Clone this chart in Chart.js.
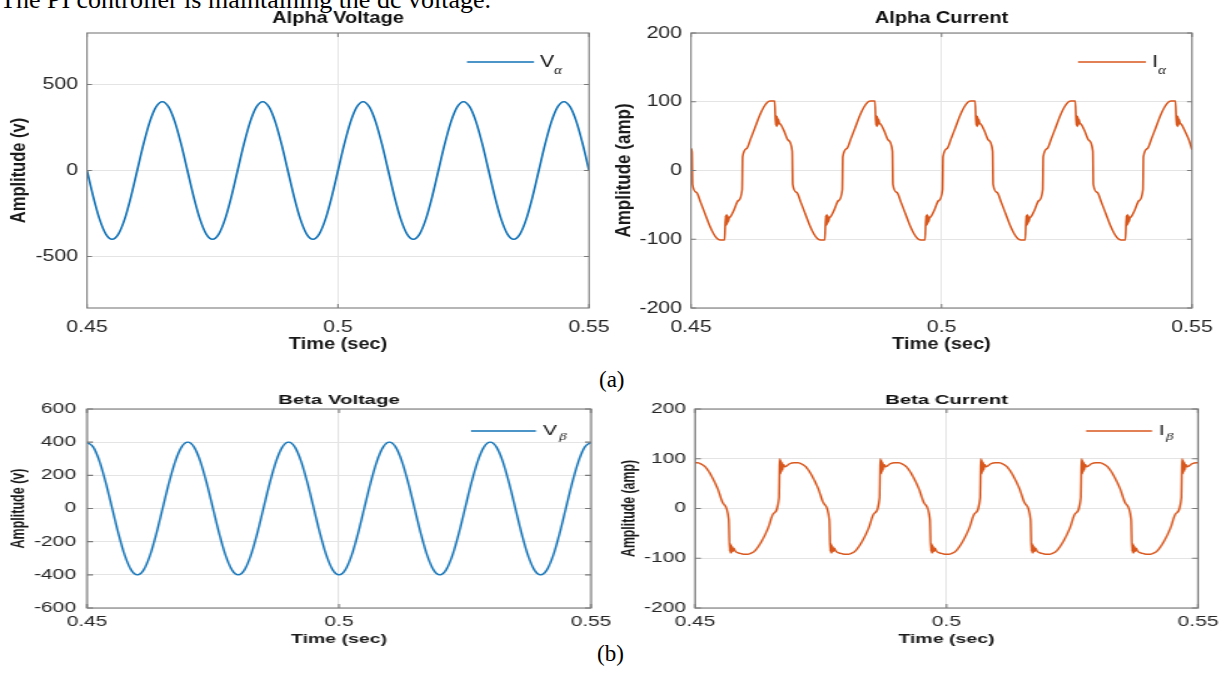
<!DOCTYPE html>
<html>
<head>
<meta charset="utf-8">
<script src="https://cdn.jsdelivr.net/npm/chart.js@4.4.1/dist/chart.umd.min.js"></script>
<style>
  html, body { margin: 0; padding: 0; background: #fff; width: 1226px; height: 677px; overflow: hidden; position: relative; }
  .panel { position: absolute; transform-origin: 0 0; }
  .panel canvas { display: block; }
  .doc { position: absolute; font-family: "Liberation Serif", "Times New Roman", serif; color: #000; white-space: nowrap; }
</style>
</head>
<body>
<div class="doc" style="left:0;top:-13px;font-size:26px;line-height:26px">The PI controller is maintaining the dc voltage.</div>
<div class="doc" style="left:599px;top:368px;font-size:23px;line-height:23px">(a)</div>
<div class="doc" style="left:597px;top:642px;font-size:23px;line-height:23px">(b)</div>
<div class="panel" id="p2"><canvas id="c2"></canvas></div>
<div class="panel" id="p4"><canvas id="c4"></canvas></div>
<div class="panel" id="p1"><canvas id="c1"></canvas></div>
<div class="panel" id="p3"><canvas id="c3"></canvas></div>
<script>
// ---- time axis (s) ----
const xTicks = [0.45, 0.5, 0.55];
const xTickLabels = ['0.45', '0.5', '0.55'];

// ---- voltage samples (every 1.25 ms) ----
const tV = [
  0.45, 0.45125, 0.4525, 0.45375, 0.455, 0.45625, 0.4575, 0.45875, 0.46, 0.46125, 0.4625, 0.46375, 0.465, 0.46625, 0.4675, 0.46875,
  0.47, 0.47125, 0.4725, 0.47375, 0.475, 0.47625, 0.4775, 0.47875, 0.48, 0.48125, 0.4825, 0.48375, 0.485, 0.48625, 0.4875, 0.48875,
  0.49, 0.49125, 0.4925, 0.49375, 0.495, 0.49625, 0.4975, 0.49875, 0.5, 0.50125, 0.5025, 0.50375, 0.505, 0.50625, 0.5075, 0.50875,
  0.51, 0.51125, 0.5125, 0.51375, 0.515, 0.51625, 0.5175, 0.51875, 0.52, 0.52125, 0.5225, 0.52375, 0.525, 0.52625, 0.5275, 0.52875,
  0.53, 0.53125, 0.5325, 0.53375, 0.535, 0.53625, 0.5375, 0.53875, 0.54, 0.54125, 0.5425, 0.54375, 0.545, 0.54625, 0.5475, 0.54875,
  0.55
];
const vAlpha = [
  0, -153, -283, -370, -400, -370, -283, -153, 0, 153, 283, 370, 400, 370, 283, 153,
  0, -153, -283, -370, -400, -370, -283, -153, 0, 153, 283, 370, 400, 370, 283, 153,
  0, -153, -283, -370, -400, -370, -283, -153, 0, 153, 283, 370, 400, 370, 283, 153,
  0, -153, -283, -370, -400, -370, -283, -153, 0, 153, 283, 370, 400, 370, 283, 153,
  0, -153, -283, -370, -400, -370, -283, -153, 0, 153, 283, 370, 400, 370, 283, 153,
  0
];
const vBeta = [
  400, 370, 283, 153, 0, -153, -283, -370, -400, -370, -283, -153, 0, 153, 283, 370,
  400, 370, 283, 153, 0, -153, -283, -370, -400, -370, -283, -153, 0, 153, 283, 370,
  400, 370, 283, 153, 0, -153, -283, -370, -400, -370, -283, -153, 0, 153, 283, 370,
  400, 370, 283, 153, 0, -153, -283, -370, -400, -370, -283, -153, 0, 153, 283, 370,
  400, 370, 283, 153, 0, -153, -283, -370, -400, -370, -283, -153, 0, 153, 283, 370,
  400
];

// ---- alpha current ----
const tIa = [
  0.4500, 0.4502,
  0.4503, 0.4511, 0.4519, 0.4528, 0.4537, 0.4545, 0.4552, 0.4558, 0.4567, 0.4569, 0.4570, 0.4571, 0.4572, 0.4573, 0.4574, 0.4576, 0.4579, 0.4586, 0.4594, 0.4602,
  0.4603, 0.4611, 0.4619, 0.4628, 0.4637, 0.4645, 0.4652, 0.4658, 0.4667, 0.4669, 0.4670, 0.4671, 0.4672, 0.4673, 0.4674, 0.4676, 0.4679, 0.4686, 0.4694, 0.4702,
  0.4703, 0.4711, 0.4719, 0.4728, 0.4737, 0.4745, 0.4752, 0.4758, 0.4767, 0.4769, 0.4770, 0.4771, 0.4772, 0.4773, 0.4774, 0.4776, 0.4779, 0.4786, 0.4794, 0.4802,
  0.4803, 0.4811, 0.4819, 0.4828, 0.4837, 0.4845, 0.4852, 0.4858, 0.4867, 0.4869, 0.4870, 0.4871, 0.4872, 0.4873, 0.4874, 0.4876, 0.4879, 0.4886, 0.4894, 0.4902,
  0.4903, 0.4911, 0.4919, 0.4928, 0.4937, 0.4945, 0.4952, 0.4958, 0.4967, 0.4969, 0.4970, 0.4971, 0.4972, 0.4973, 0.4974, 0.4976, 0.4979, 0.4986, 0.4994, 0.5002,
  0.5003, 0.5011, 0.5019, 0.5028, 0.5037, 0.5045, 0.5052, 0.5058, 0.5067, 0.5069, 0.5070, 0.5071, 0.5072, 0.5073, 0.5074, 0.5076, 0.5079, 0.5086, 0.5094, 0.5102,
  0.5103, 0.5111, 0.5119, 0.5128, 0.5137, 0.5145, 0.5152, 0.5158, 0.5167, 0.5169, 0.5170, 0.5171, 0.5172, 0.5173, 0.5174, 0.5176, 0.5179, 0.5186, 0.5194, 0.5202,
  0.5203, 0.5211, 0.5219, 0.5228, 0.5237, 0.5245, 0.5252, 0.5258, 0.5267, 0.5269, 0.5270, 0.5271, 0.5272, 0.5273, 0.5274, 0.5276, 0.5279, 0.5286, 0.5294, 0.5302,
  0.5303, 0.5311, 0.5319, 0.5328, 0.5337, 0.5345, 0.5352, 0.5358, 0.5367, 0.5369, 0.5370, 0.5371, 0.5372, 0.5373, 0.5374, 0.5376, 0.5379, 0.5386, 0.5394, 0.5402,
  0.5403, 0.5411, 0.5419, 0.5428, 0.5437, 0.5445, 0.5452, 0.5458, 0.5467, 0.5469, 0.5470, 0.5471, 0.5472, 0.5473, 0.5474, 0.5476, 0.5479, 0.5486, 0.5494, 0.5500
];
const iAlpha = [
  32, 27,
  -20, -32, -46, -63, -80, -92, -99, -101, -101, -66, -80, -64, -78, -66, -75, -69, -67, -57, -44, -28,
  20, 32, 46, 63, 80, 92, 99, 101, 101, 66, 80, 64, 78, 66, 75, 69, 67, 57, 44, 28,
  -20, -32, -46, -63, -80, -92, -99, -101, -101, -66, -80, -64, -78, -66, -75, -69, -67, -57, -44, -28,
  20, 32, 46, 63, 80, 92, 99, 101, 101, 66, 80, 64, 78, 66, 75, 69, 67, 57, 44, 28,
  -20, -32, -46, -63, -80, -92, -99, -101, -101, -66, -80, -64, -78, -66, -75, -69, -67, -57, -44, -28,
  20, 32, 46, 63, 80, 92, 99, 101, 101, 66, 80, 64, 78, 66, 75, 69, 67, 57, 44, 28,
  -20, -32, -46, -63, -80, -92, -99, -101, -101, -66, -80, -64, -78, -66, -75, -69, -67, -57, -44, -28,
  20, 32, 46, 63, 80, 92, 99, 101, 101, 66, 80, 64, 78, 66, 75, 69, 67, 57, 44, 28,
  -20, -32, -46, -63, -80, -92, -99, -101, -101, -66, -80, -64, -78, -66, -75, -69, -67, -57, -44, -28,
  20, 32, 46, 63, 80, 92, 99, 101, 101, 66, 80, 64, 78, 66, 75, 69, 67, 57, 44, 30
];

// ---- beta current ----
const tIb = [
  0.4500, 0.4505, 0.4509, 0.4520, 0.4533, 0.4545, 0.4556, 0.4567,
  0.4569, 0.4570, 0.4571, 0.4572, 0.4573, 0.4574, 0.4575, 0.4577, 0.4580, 0.4589, 0.4597, 0.4605, 0.4609, 0.4620, 0.4633, 0.4645, 0.4656, 0.4667,
  0.4668, 0.4669, 0.4670, 0.4671, 0.4672, 0.4673, 0.4674, 0.4676, 0.4679, 0.4688, 0.4697, 0.4705, 0.4709, 0.4720, 0.4733, 0.4745, 0.4756, 0.4767,
  0.4769, 0.4770, 0.4771, 0.4772, 0.4773, 0.4774, 0.4775, 0.4777, 0.4780, 0.4789, 0.4797, 0.4805, 0.4809, 0.4820, 0.4833, 0.4845, 0.4856, 0.4867,
  0.4868, 0.4869, 0.4870, 0.4871, 0.4872, 0.4873, 0.4874, 0.4876, 0.4879, 0.4888, 0.4897, 0.4905, 0.4909, 0.4920, 0.4933, 0.4945, 0.4956, 0.4967,
  0.4969, 0.4970, 0.4971, 0.4972, 0.4973, 0.4974, 0.4975, 0.4977, 0.4980, 0.4989, 0.4997, 0.5005, 0.5009, 0.5020, 0.5033, 0.5045, 0.5056, 0.5067,
  0.5068, 0.5069, 0.5070, 0.5071, 0.5072, 0.5073, 0.5074, 0.5076, 0.5079, 0.5088, 0.5097, 0.5105, 0.5109, 0.5120, 0.5133, 0.5145, 0.5156, 0.5167,
  0.5169, 0.5170, 0.5171, 0.5172, 0.5173, 0.5174, 0.5175, 0.5177, 0.5180, 0.5189, 0.5197, 0.5205, 0.5209, 0.5220, 0.5233, 0.5245, 0.5256, 0.5267,
  0.5268, 0.5269, 0.5270, 0.5271, 0.5272, 0.5273, 0.5274, 0.5276, 0.5279, 0.5288, 0.5297, 0.5305, 0.5309, 0.5320, 0.5333, 0.5345, 0.5356, 0.5367,
  0.5369, 0.5370, 0.5371, 0.5372, 0.5373, 0.5374, 0.5375, 0.5377, 0.5380, 0.5389, 0.5397, 0.5405, 0.5409, 0.5420, 0.5433, 0.5445, 0.5456, 0.5467,
  0.5468, 0.5469, 0.5470, 0.5471, 0.5472, 0.5473, 0.5474, 0.5476, 0.5479, 0.5488, 0.5497, 0.5500
];
const iBeta = [
  92, 92, 91, 84, 65, 40, 10, -22,
  -86, -70, -90, -74, -88, -77, -86, -80, -86, -90, -92, -92, -91, -84, -65, -40, -10, 22,
  86, 100, 70, 96, 74, 92, 78, 88, 84, 90, 92, 92, 91, 84, 65, 40, 10, -22,
  -86, -70, -90, -74, -88, -77, -86, -80, -86, -90, -92, -92, -91, -84, -65, -40, -10, 22,
  86, 100, 70, 96, 74, 92, 78, 88, 84, 90, 92, 92, 91, 84, 65, 40, 10, -22,
  -86, -70, -90, -74, -88, -77, -86, -80, -86, -90, -92, -92, -91, -84, -65, -40, -10, 22,
  86, 100, 70, 96, 74, 92, 78, 88, 84, 90, 92, 92, 91, 84, 65, 40, 10, -22,
  -86, -70, -90, -74, -88, -77, -86, -80, -86, -90, -92, -92, -91, -84, -65, -40, -10, 22,
  86, 100, 70, 96, 74, 92, 78, 88, 84, 90, 92, 92, 91, 84, 65, 40, 10, -22,
  -86, -70, -90, -74, -88, -77, -86, -80, -86, -90, -92, -92, -91, -84, -65, -40, -10, 22,
  86, 100, 70, 96, 74, 92, 78, 88, 84, 90, 92, 92
];

// ---- y-axis ticks ----
const yTicksVa = [-500, 0, 500];
const yTicksIa = [-200, -100, 0, 100, 200];
const yTicksVb = [-600, -400, -200, 0, 200, 400, 600];
const yTicksIb = [-200, -100, 0, 100, 200];

const SANS = '"Liberation Sans", Arial, Helvetica, sans-serif';
const BLUE = '#1172b6';
const ORANGE = '#d8571d';

// axes box with inward tick marks, drawn over the traces
const framePlugin = {
  id: 'frame',
  afterDatasetsDraw(chart, args, opts) {
    const { ctx, chartArea: a, scales: { x, y } } = chart;
    ctx.save();
    ctx.strokeStyle = opts.color;
    ctx.lineWidth = 1.1;
    ctx.strokeRect(a.left, a.top, a.right - a.left, a.bottom - a.top);
    ctx.beginPath();
    x.ticks.forEach(t => {
      const px = x.getPixelForValue(t.value);
      ctx.moveTo(px, a.bottom); ctx.lineTo(px, a.bottom - opts.tickY);
      ctx.moveTo(px, a.top); ctx.lineTo(px, a.top + opts.tickY);
    });
    y.ticks.forEach(t => {
      const py = y.getPixelForValue(t.value);
      ctx.moveTo(a.left, py); ctx.lineTo(a.left + opts.tickX, py);
      ctx.moveTo(a.right, py); ctx.lineTo(a.right - opts.tickX, py);
    });
    ctx.stroke();
    ctx.restore();
  }
};

// line sample + symbol with Greek subscript
const keyPlugin = {
  id: 'key',
  afterDraw(chart, args, o) {
    const ctx = chart.ctx;
    ctx.save();
    ctx.strokeStyle = o.color;
    ctx.lineWidth = o.lineWidth;
    ctx.beginPath();
    ctx.moveTo(o.x1, o.y); ctx.lineTo(o.x2, o.y);
    ctx.stroke();
    ctx.fillStyle = '#111';
    ctx.textBaseline = 'middle';
    ctx.textAlign = 'left';
    ctx.font = o.size + 'px ' + SANS;
    ctx.fillText(o.main, o.tx, o.y);
    ctx.font = 'italic ' + o.subSize + 'px "Liberation Serif", serif';
    ctx.fillText(o.sub, o.sx, o.sy);
    ctx.restore();
  }
};

function makeChart(c) {
  const s = c.width / c.iw;
  const wrap = document.getElementById(c.wrap);
  wrap.style.left = c.left + 'px';
  wrap.style.top = c.top + 'px';
  wrap.style.transform = 'scaleX(' + s + ')';
  const cv = document.getElementById(c.canvas);
  cv.width = c.iw; cv.height = c.height;
  cv.style.width = c.iw + 'px'; cv.style.height = c.height + 'px';

  const ix = X => (X - c.left) / s;
  const yAxisW = ix(c.area.l);
  const rightPad = c.iw - ix(c.area.r);
  const titleH = c.area.t - c.top;
  const xAxisH = c.top + c.height - c.area.b;
  const tLh = c.titleSize * 1.2;
  const tPadTop = (c.titleY - c.top) - tLh / 2;
  const lLh = c.labelSize * 1.2;
  const kLh = c.tickSize * 1.2;

  const pts = c.xs.map((t, i) => ({ x: t, y: c.ys[i] }));

  return new Chart(cv, {
    type: 'line',
    data: { datasets: [{ data: pts, borderColor: c.color, borderWidth: c.lineWidth, pointRadius: 0, fill: false, cubicInterpolationMode: 'monotone' }] },
    options: {
      responsive: false, animation: false, devicePixelRatio: 1,
      layout: { padding: { left: 0, right: rightPad, top: 0, bottom: 0 } },
      plugins: {
        legend: { display: false }, tooltip: { enabled: false },
        title: {
          display: true, text: c.title, fullSize: false, color: '#111',
          font: { family: SANS, size: c.titleSize, weight: 'bold' },
          padding: { top: tPadTop, bottom: titleH - tLh - tPadTop }
        },
        frame: { color: '#7b7b7b', tickX: 4, tickY: 4 },
        key: {
          color: c.color, lineWidth: c.lineWidth,
          x1: ix(c.key.x1), x2: ix(c.key.x2), y: c.key.y - c.top,
          main: c.key.main, tx: ix(c.key.tx), size: c.key.size,
          sub: c.key.sub, sx: ix(c.key.sx), sy: c.key.sy - c.top, subSize: c.key.subSize
        }
      },
      scales: {
        x: {
          type: 'linear', min: xTicks[0], max: xTicks[xTicks.length - 1],
          afterBuildTicks: sc => { sc.ticks = xTicks.map(v => ({ value: v })); },
          afterFit: sc => { sc.height = xAxisH; sc.paddingLeft = 0; sc.paddingRight = 0; },
          ticks: {
            autoSkip: false, maxRotation: 0, color: '#262626',
            font: { family: SANS, size: c.tickSize },
            padding: (c.xTickY - c.area.b) - kLh / 2,
            callback: (v, i) => xTickLabels[i]
          },
          grid: { color: '#e4e4e4', lineWidth: 1, drawTicks: false },
          border: { display: false },
          title: {
            display: true, text: c.xTitle, color: '#1a1a1a',
            font: { family: SANS, size: c.labelSize, weight: 'bold' },
            padding: { top: 0, bottom: (c.top + c.height - c.xTitleY) - lLh / 2 }
          }
        },
        y: {
          type: 'linear', min: c.yMin, max: c.yMax,
          afterBuildTicks: sc => { sc.ticks = c.yTicks.map(v => ({ value: v })); },
          afterFit: sc => { sc.width = yAxisW; sc.paddingTop = 0; sc.paddingBottom = 0; },
          ticks: {
            color: '#262626', font: { family: SANS, size: c.tickSize },
            padding: yAxisW - ix(c.yTickRight),
            callback: v => String(v)
          },
          grid: { color: '#e4e4e4', lineWidth: 1, drawTicks: false },
          border: { display: false },
          title: {
            display: true, text: c.yTitle, color: '#1a1a1a',
            font: { family: SANS, size: c.yLabelSize, weight: 'bold' },
            padding: { top: ix(c.yTitleX) - c.yLabelSize * 0.6, bottom: 0 }
          }
        }
      }
    },
    plugins: [framePlugin, keyPlugin]
  });
}

makeChart({
  wrap: 'p1', canvas: 'c1', left: 0, top: 0, width: 625, height: 360, iw: 500,
  area: { l: 87, t: 33, r: 589, b: 308 },
  title: 'Alpha Voltage', titleSize: 16, titleY: 19,
  xTitle: 'Time (sec)', xTitleY: 345, labelSize: 16,
  yTitle: 'Amplitude (v)', yTitleX: 19, yLabelSize: 16.5,
  tickSize: 17, xTickY: 327, yTickRight: 78,
  yMin: -800, yMax: 800, yTicks: yTicksVa,
  xs: tV, ys: vAlpha, color: BLUE, lineWidth: 1.7,
  key: { x1: 467, x2: 534, y: 62, main: 'V', tx: 540, size: 17, sub: 'α', sx: 554, sy: 71, subSize: 12 }
});

makeChart({
  wrap: 'p2', canvas: 'c2', left: 600, top: 0, width: 626, height: 360, iw: 500,
  area: { l: 691, t: 33, r: 1192, b: 308 },
  title: 'Alpha Current', titleSize: 16, titleY: 19,
  xTitle: 'Time (sec)', xTitleY: 345, labelSize: 16,
  yTitle: 'Amplitude (amp)', yTitleX: 624, yLabelSize: 17,
  tickSize: 17, xTickY: 327, yTickRight: 682,
  yMin: -200, yMax: 200, yTicks: yTicksIa,
  xs: tIa, ys: iAlpha, color: ORANGE, lineWidth: 1.6,
  key: { x1: 1078, x2: 1146, y: 62, main: 'I', tx: 1152, size: 17, sub: 'α', sx: 1158, sy: 71, subSize: 12 }
});

makeChart({
  wrap: 'p3', canvas: 'c3', left: 0, top: 370, width: 630, height: 307, iw: 420,
  area: { l: 87, t: 409, r: 591, b: 608 },
  title: 'Beta Voltage', titleSize: 13.5, titleY: 400,
  xTitle: 'Time (sec)', xTitleY: 639, labelSize: 13,
  yTitle: 'Amplitude (v)', yTitleX: 19, yLabelSize: 12.5,
  tickSize: 14, xTickY: 622, yTickRight: 76,
  yMin: -600, yMax: 600, yTicks: yTicksVb,
  xs: tV, ys: vBeta, color: BLUE, lineWidth: 1.4,
  key: { x1: 471, x2: 536, y: 431, main: 'V', tx: 543, size: 14, sub: 'β', sx: 559, sy: 437, subSize: 10 }
});

makeChart({
  wrap: 'p4', canvas: 'c4', left: 600, top: 370, width: 626, height: 307, iw: 417,
  area: { l: 695, t: 409, r: 1198, b: 608 },
  title: 'Beta Current', titleSize: 13.5, titleY: 400,
  xTitle: 'Time (sec)', xTitleY: 639, labelSize: 13,
  yTitle: 'Amplitude (amp)', yTitleX: 630, yLabelSize: 12.3,
  tickSize: 14, xTickY: 622, yTickRight: 686,
  yMin: -200, yMax: 200, yTicks: yTicksIb,
  xs: tIb, ys: iBeta, color: ORANGE, lineWidth: 1.4,
  key: { x1: 1086, x2: 1152, y: 431, main: 'I', tx: 1159, size: 14, sub: 'β', sx: 1166, sy: 437, subSize: 10 }
});
</script>
</body>
</html>
